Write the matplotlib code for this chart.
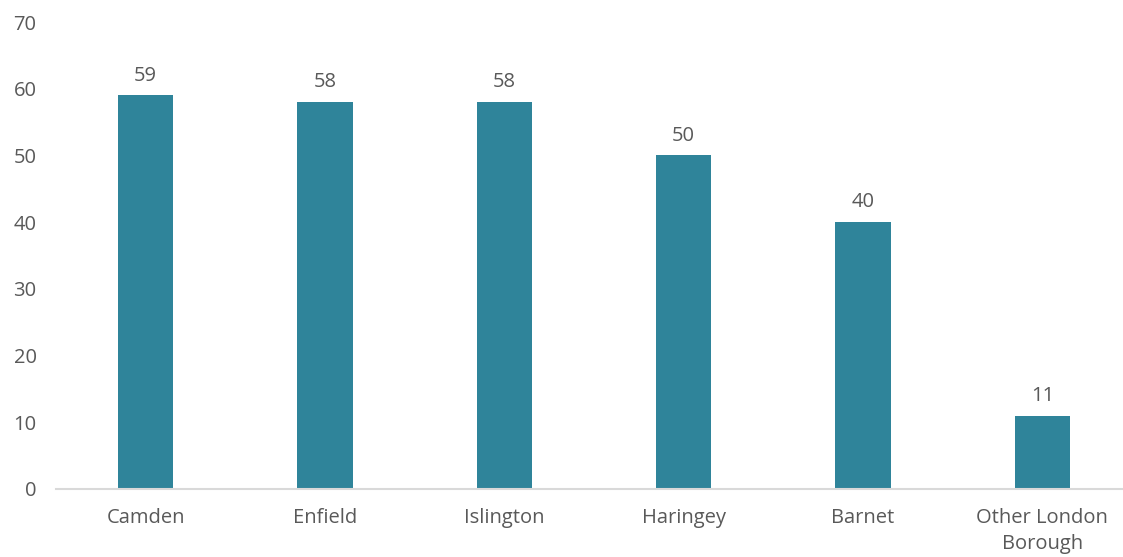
import matplotlib
matplotlib.use("Agg")
import matplotlib.pyplot as plt

boroughs = ["Camden", "Enfield", "Islington", "Haringey", "Barnet", "Other London\nBorough"]
counts = [59, 58, 58, 50, 40, 11]
y_ticks = [0, 10, 20, 30, 40, 50, 60, 70]

bar_color = "#2F849A"
text_color = "#595959"

plt.rcParams['font.family'] = ['Open Sans', 'DejaVu Sans']

fig = plt.figure(figsize=(11.23, 5.57), dpi=100)
ax = fig.add_axes([56 / 1123, 68 / 557, 1 - 56 / 1123, (489 - 22) / 557])

x = list(range(len(boroughs)))
bars = ax.bar(x, counts, width=0.31, color=bar_color)
for rect, v in zip(bars, counts):
    ax.annotate(f'{v}', (rect.get_x() + rect.get_width() / 2, v),
                xytext=(0, 7), textcoords='offset points',
                ha='center', va='bottom', fontsize=14.5, color=text_color)

ax.set_xlim(-0.5, 5.45)
ax.set_ylim(0, 70)
ax.set_yticks(y_ticks)
ax.set_xticks(x)
ax.set_xticklabels(boroughs, linespacing=1.35)
ax.tick_params(axis='y', length=0, pad=14, labelsize=14.5, labelcolor=text_color)
ax.tick_params(axis='x', length=0, pad=14, labelsize=14.5, labelcolor=text_color)

for side in ['top', 'right', 'left']:
    ax.spines[side].set_visible(False)
ax.spines['bottom'].set_color('#D9D9D9')
ax.spines['bottom'].set_linewidth(1.5)

fig.savefig("out.png", dpi=100)
